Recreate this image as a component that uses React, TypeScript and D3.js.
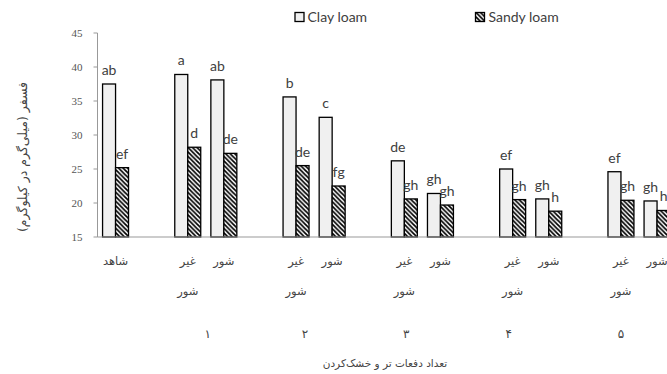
import * as d3 from 'd3'

// slots on the category axis; empty strings are spacer slots between groups
const categories = ['شاهد', '', 'غیر شور', 'شور', '', 'غیر شور', 'شور', '', 'غیر شور', 'شور', '', 'غیر شور', 'شور', '', 'غیر شور', 'شور']
const clayValues = [37.5, null, 38.9, 38.1, null, 35.6, 32.6, null, 26.2, 21.4, null, 25.0, 20.6, null, 24.6, 20.3]
const sandyValues = [25.2, null, 28.2, 27.3, null, 25.5, 22.5, null, 20.6, 19.7, null, 20.5, 18.8, null, 20.4, 18.9]
const clayLetters = ['ab', '', 'a', 'ab', '', 'b', 'c', '', 'de', 'gh', '', 'ef', 'gh', '', 'ef', 'gh']
const sandyLetters = ['ef', '', 'd', 'de', '', 'de', 'fg', '', 'gh', 'gh', '', 'gh', 'h', '', 'gh', 'h']
const groupLabels = ['۱', '۲', '۳', '۴', '۵']
const groupAt = [2, 5, 8, 11, 14] // first slot of each group
const groupNudge = [20, 9, 2, -4, 0]
const series = ['Clay loam', 'Sandy loam']
const yTicks = [15, 20, 25, 30, 35, 40, 45]

const W = 667
const H = 374
const left = 97.5
const step = 36.1
const bottom = 237
const top = 33

export default function App() {
  const idx = categories.map((_, i) => String(i))
  const x = d3.scaleBand().domain(idx).range([left, left + step * categories.length])
  const inner = d3.scaleBand().domain(series).range([0, x.bandwidth()]).paddingOuter(0.39)
  const y = d3.scaleLinear().domain([15, 45]).range([bottom, top])
  const bw = inner.bandwidth()
  const letterFont = 'Lato, "Open Sans", sans-serif'
  const arFont = '"DejaVu Sans", sans-serif'

  return (
    <svg width={W} height={H} style={{ position: 'absolute', left: 0, top: 0, background: '#fff' }}>
      <defs>
        <pattern id="hatch" patternUnits="userSpaceOnUse" width="4.5" height="4.5">
          <rect width="4.5" height="4.5" fill="#fff" />
          <path d="M-1,-1 L5.5,5.5 M-1,3.5 L1,5.5 M3.5,-1 L5.5,1" stroke="#000" strokeWidth="1.7" />
        </pattern>
      </defs>

      {/* legend */}
      <rect x={295} y={12.5} width={9} height={9} fill="#f0f0f0" stroke="#000" strokeWidth={1.3} />
      <text x={307.5} y={22} fontFamily={letterFont} fontSize={14} fill="#404040">{series[0]}</text>
      <rect x={475.5} y={12.5} width={9} height={9} fill="url(#hatch)" stroke="#000" strokeWidth={1.3} />
      <text x={488.5} y={22} fontFamily={letterFont} fontSize={14} fill="#404040">{series[1]}</text>

      {/* y axis */}
      <line x1={left} x2={left} y1={top} y2={bottom} stroke="#999" />
      {yTicks.map(t => (
        <g key={t}>
          <line x1={left - 4} x2={left} y1={y(t)} y2={y(t)} stroke="#999" />
          <text x={left - 15} y={y(t)} dy="0.35em" textAnchor="end" fontFamily='"Liberation Serif", serif' fontSize={11} fill="#555">{t}</text>
        </g>
      ))}

      {/* bars */}
      {categories.map((c, i) => {
        const x0 = x(String(i))!
        const cv = clayValues[i]
        const sv = sandyValues[i]
        if (cv == null || sv == null) return null
        const xc = x0 + inner(series[0])!
        const xs = x0 + inner(series[1])!
        return (
          <g key={i}>
            <rect x={xc} y={y(cv)} width={bw} height={bottom - y(cv)} fill="#f0f0f0" stroke="#000" strokeWidth={1.3} />
            <rect x={xs} y={y(sv)} width={bw} height={bottom - y(sv)} fill="url(#hatch)" stroke="#000" strokeWidth={1.3} />
            <text x={xc + bw / 2} y={y(cv) - 9} textAnchor="middle" fontFamily={letterFont} fontSize={14} fill="#404040">{clayLetters[i]}</text>
            <text x={xs + bw / 2} y={y(sv) - 9} textAnchor="middle" fontFamily={letterFont} fontSize={14} fill="#404040">{sandyLetters[i]}</text>
          </g>
        )
      })}

      {/* x axis */}
      <line x1={left} x2={W} y1={bottom} y2={bottom} stroke="#999" />
      {categories.map((c, i) => {
        if (!c) return null
        const cx = x(String(i))! + x.bandwidth() / 2
        const words = c.split(' ')
        return (
          <g key={'l' + i}>
            {words.map((w, k) => (
              <text key={k} x={cx} y={265 + k * 30} textAnchor="middle" direction="rtl" fontFamily={arFont} fontSize={11.5} fill="#444">{w}</text>
            ))}
          </g>
        )
      })}
      {groupLabels.map((g, i) => (
        <text key={g} x={x(String(groupAt[i]))! + x.bandwidth() / 2 + groupNudge[i]} y={338} textAnchor="middle" fontFamily={arFont} fontSize={12} fill="#444">{g}</text>
      ))}

      <text x={385} y={367} textAnchor="middle" direction="rtl" fontFamily={arFont} fontSize={10.5} fill="#444">تعداد دفعات تر و خشک‌کردن</text>
      <text transform={`translate(27,157) rotate(-90)`} textAnchor="middle" direction="rtl" fontFamily={arFont} fontSize={12.5} fill="#444">فسفر (میلی‌گرم در کیلوگرم)</text>
    </svg>
  )
}
